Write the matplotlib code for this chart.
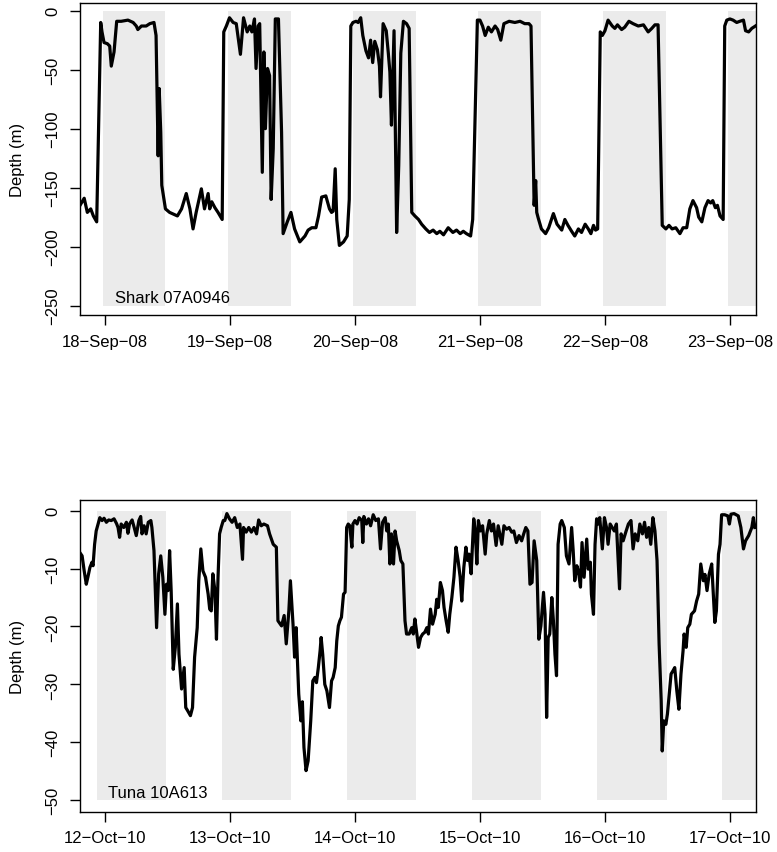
import matplotlib
matplotlib.use("Agg")
import matplotlib.pyplot as plt

plt.rcParams['font.family'] = ['Liberation Sans', 'DejaVu Sans']
plt.rcParams['font.size'] = 12

# Shark 07A0946 : hours since 18-Sep-08 00:00, depth (m)
shark_hours = [-4.8, -4.0, -3.4, -2.75, -2.24, -1.6, -0.83, -0.58, -0.19, 0.45, 0.9, 1.2, 1.73, 2.24, 3.1,
               4.4, 5.4, 6.0, 6.3, 7.0, 7.9, 8.6, 9.4, 9.8, 10.2, 10.4, 10.7, 10.9, 11.6, 12.4, 13.9, 14.7,
               15.6, 16.3, 16.9, 17.5, 18.5, 19.1, 19.8, 20.1, 20.5, 21.1, 21.7, 22.5, 22.8, 23.3, 23.9,
               24.6, 25.2, 26.0, 26.6, 27.3, 27.8, 28.2, 28.7, 29.0, 29.4, 29.7, 30.2, 30.5, 30.8, 31.2,
               31.6, 31.9, 32.3, 32.7, 33.3, 33.9, 34.2, 35.0, 35.7, 36.4, 37.4, 38.4, 39.0, 39.7, 40.5,
               41.0, 41.6, 42.4, 43.1, 43.5, 43.8, 44.2, 44.5, 45.0, 45.8, 46.5, 46.9, 47.2, 47.6, 48.2,
               48.6, 49.1, 49.5, 50.1, 50.6, 51.0, 51.4, 51.8, 52.3, 52.7, 52.9, 53.4, 54.0, 54.4, 54.7,
               55.0, 55.5, 56.0, 56.4, 56.8, 57.3, 57.9, 58.4, 58.9, 59.5, 60.2, 60.8, 61.6, 62.3, 63.0,
               63.7, 64.3, 65.0, 65.9, 66.8, 67.5, 68.2, 68.8, 69.4, 70.2, 70.6, 71.5, 72.0, 72.5, 73.0,
               73.6, 74.2, 74.9, 75.4, 76.0, 76.6, 77.6, 78.7, 79.7, 80.6, 81.4, 81.8, 82.4, 82.7, 82.9,
               83.2, 83.8, 84.6, 85.2, 86.1, 86.8, 87.7, 88.3, 88.9, 89.6, 90.2, 90.9, 91.5, 92.2, 92.8,
               93.3, 93.8, 94.2, 94.6, 95.1, 95.5, 96.0, 96.6, 97.4, 97.9, 98.4, 99.2, 99.8, 100.6, 101.4,
               102.4, 103.4, 104.3, 105.0, 105.6, 106.2, 107.0, 107.7, 108.3, 108.9, 109.6, 110.4, 111.0,
               111.7, 112.3, 112.9, 113.6, 114.0, 114.6, 115.2, 115.8, 116.3, 116.7, 117.2, 117.6, 118.1,
               118.7, 119.0, 119.4, 120.0, 120.6, 121.3, 121.9, 122.6, 123.0, 123.6, 124.2, 124.9]
shark_depth = [-165, -159, -171, -168, -174, -179, -10, -18, -27, -28, -30, -47, -35, -9, -9,
               -8, -10, -13, -16, -13, -13, -11, -10, -21, -123, -66, -103, -148, -168, -171, -174, -168,
               -155, -168, -185, -171, -151, -168, -155, -168, -162, -167, -171, -177, -18, -13, -6,
               -10, -11, -37, -6, -18, -13, -18, -7, -49, -13, -11, -137, -35, -100, -49,
               -55, -160, -117, -7, -7, -103, -189, -179, -171, -185, -196, -191, -186, -184, -184,
               -174, -158, -157, -168, -171, -170, -134, -177, -199, -196, -191, -160, -13, -10, -9,
               -10, -6, -21, -34, -40, -25, -44, -26, -33, -47, -73, -11, -17, -36, -52,
               -97, -17, -188, -131, -36, -9, -11, -15, -171, -174, -177, -181, -185, -188, -186,
               -189, -187, -190, -184, -188, -186, -189, -187, -189, -191, -177, -8, -8, -13, -21,
               -14, -18, -13, -16, -25, -11, -9, -10, -9, -11, -11, -13, -165, -144, -171,
               -176, -185, -189, -184, -172, -181, -186, -177, -182, -187, -191, -185, -188, -181, -185,
               -189, -182, -186, -185, -18, -21, -17, -8, -13, -15, -12, -16, -14, -9, -11,
               -13, -12, -18, -15, -12, -12, -182, -185, -182, -185, -184, -189, -184,
               -184, -168, -161, -167, -175, -179, -167, -161, -163, -161, -167, -165, -174,
               -177, -13, -8, -7, -8, -10, -9, -8, -17, -18, -15, -13]

# Tuna 10A613 : hours since 12-Oct-10 00:00, depth (m)
tuna_hours = [-4.86, -4.4, -4.0, -3.6, -3.3, -2.9, -2.5, -2.3, -2.0, -1.7, -1.34, -1.0, -0.57, -0.19, 0.26,
              0.7, 1.2, 1.73, 2.2, 2.5, 2.8, 3.1, 3.6, 4.1, 4.4, 4.7, 5.2, 5.6, 6.0, 6.5, 6.85, 7.1, 7.5,
              7.9, 8.3, 8.8, 9.0, 9.4, 9.9, 10.3, 10.7, 11.1, 11.5, 11.8, 12.1, 12.4, 12.7, 13.1, 13.5,
              13.9, 14.2, 14.7, 15.2, 15.5, 15.9, 16.4, 16.8, 17.2, 17.7, 18.0, 18.4, 18.8, 19.3, 19.8,
              20.1, 20.4, 20.7, 21.1, 21.4, 21.7, 22.0, 22.3, 22.7, 23.0, 23.4, 23.9, 24.4, 24.9, 25.4,
              25.9, 26.4, 26.6, 27.1, 27.6, 28.1, 28.6, 29.1, 29.5, 30.0, 30.5, 31.2, 31.6, 32.3, 32.9,
              33.2, 33.9, 34.4, 34.8, 35.3, 35.6, 36.1, 36.4, 36.7, 37.2, 37.6, 37.9, 38.2, 38.6, 39.0,
              39.5, 39.9, 40.3, 40.6, 40.96, 41.3, 41.5, 41.8, 42.2, 42.6, 43.1, 43.5, 43.8, 44.2, 44.5,
              44.8, 45.1, 45.4, 45.8, 46.1, 46.4, 46.7, 47.0, 47.4, 47.6, 48.0, 48.4, 48.8, 49.3, 49.5,
              49.7, 50.2, 50.6, 51.0, 51.5, 52.0, 52.5, 52.9, 53.3, 53.8, 54.1, 54.4, 54.7, 55.0, 55.4,
              55.7, 56.0, 56.5, 56.8, 57.2, 57.6, 57.9, 58.4, 58.9, 59.2, 59.5, 59.8, 60.2, 60.6, 61.0,
              61.4, 61.8, 62.1, 62.5, 62.9, 63.4, 63.7, 64.0, 64.4, 64.8, 65.1, 65.5, 65.9, 66.2, 66.6,
              67.0, 67.4, 67.8, 68.2, 68.5, 68.9, 69.3, 69.6, 69.9, 70.3, 70.6, 70.8, 71.1, 71.4, 71.7,
              72.1, 72.5, 73.0, 73.3, 73.8, 74.2, 74.6, 75.1, 75.5, 76.2, 76.6, 77.1, 77.6, 78.1, 78.5,
              79.0, 79.5, 80.0, 80.4, 80.8, 81.2, 81.6, 82.0, 82.4, 82.9, 83.3, 83.7, 84.2, 84.5, 84.8,
              85.1, 85.4, 85.8, 86.1, 86.4, 86.7, 87.0, 87.4, 87.7, 88.2, 88.6, 89.1, 89.6, 89.9, 90.2,
              90.6, 90.9, 91.3, 91.6, 92.0, 92.5, 92.8, 93.2, 93.4, 93.8, 94.1, 94.4, 94.7, 95.0, 95.5,
              95.9, 96.3, 96.6, 97.0, 97.4, 97.8, 98.2, 98.8, 99.1, 99.5, 100.0, 100.5, 101.0, 101.4,
              101.8, 102.3, 102.7, 103.2, 103.6, 104.0, 104.4, 104.8, 105.2, 105.6, 106.0, 106.4, 106.8,
              107.0, 107.3, 107.7, 108.0, 108.4, 108.7, 109.1, 109.4, 109.8, 110.2, 110.6, 111.0, 111.2,
              111.6, 111.9, 112.3, 112.6, 113.2, 113.6, 114.0, 114.4, 114.9, 115.2, 115.6, 116.0, 116.5,
              116.8, 117.1, 117.4, 117.8, 118.1, 118.4, 119.0, 119.6, 119.9, 120.2, 120.8, 121.6, 122.1,
              122.6, 123.0, 123.6, 124.2, 124.5, 124.8]
tuna_depth = [-7.2, -7.8, -10.4, -12.7, -11.5, -9.8, -8.9, -9.5, -5.8, -3.5, -2.3, -1.2, -1.7, -1.3, -2.0,
              -1.6, -1.7, -1.4, -2.2, -2.9, -4.6, -2.3, -2.9, -2.0, -3.9, -2.3, -1.6, -2.9, -4.3, -1.7, -1.0, -4.0, -2.6,
              -4.0, -2.0, -1.7, -2.9, -6.9, -20.2, -10.9, -7.8, -11.5, -17.9, -12.7, -13.8, -6.9, -13.8, -27.4, -23.6,
              -16.1, -24.8, -30.8, -27.1, -34.0, -34.6, -35.4, -34.0, -25.3, -20.2, -12.1, -6.6, -10.4, -11.5, -14.4,
              -17.0, -17.3, -10.9, -13.8, -22.2, -11.5, -4.0, -2.9, -1.7, -1.7, -0.5, -1.4, -2.0, -1.2, -2.9,
              -2.3, -8.4, -2.9, -3.7, -2.9, -3.7, -2.9, -4.0, -1.6, -2.6, -2.3, -2.6, -4.0, -5.8, -6.3,
              -19.0, -19.9, -18.1, -23.0, -17.3, -12.1, -19.6, -25.3, -20.2, -31.7, -36.3, -33.0, -40.9, -44.9, -43.2,
              -36.3, -29.4, -28.8, -29.7, -27.1, -24.2, -21.9, -24.8, -30.0, -31.1, -34.0, -29.4, -28.8, -27.1, -22.5,
              -19.9, -19.0, -18.4, -14.4, -14.1, -2.9, -2.3, -2.6, -6.3, -2.3, -1.7, -2.3, -1.2, -1.7, -5.5,
              -1.0, -2.3, -1.4, -2.6, -0.7, -1.7, -1.4, -6.6, -2.0, -1.2, -3.5, -2.3, -9.2, -4.0, -9.2,
              -3.5, -5.2, -6.9, -8.6, -9.2, -19.0, -21.3, -21.3, -20.2, -21.3, -18.7, -20.7, -23.6, -21.9, -21.3,
              -21.0, -20.2, -21.3, -17.0, -19.6, -17.9, -15.3, -16.7, -12.4, -13.8, -16.7, -19.0, -21.0, -17.9, -15.0,
              -11.5, -6.3, -8.6, -11.5, -15.6, -9.8, -6.3, -8.6, -7.5, -10.9, -5.2, -1.4, -3.5, -9.2, -1.7,
              -3.5, -2.6, -7.5, -4.0, -1.7, -3.5, -2.3, -6.0, -2.6, -5.8, -2.6, -3.2, -2.9, -3.7, -3.5,
              -5.5, -4.3, -5.2, -4.0, -2.9, -3.5, -12.7, -12.4, -5.2, -8.6, -22.2, -19.9, -14.1, -17.9, -35.7,
              -21.9, -21.3, -15.0, -19.0, -24.8, -28.5, -5.8, -2.3, -1.7, -2.9, -7.8, -9.2, -2.9, -6.9, -12.1,
              -9.5, -10.4, -13.2, -5.5, -11.5, -4.9, -10.1, -8.9, -14.4, -17.9, -5.8, -1.4, -2.3, -1.2, -6.6,
              -1.2, -2.9, -5.8, -2.3, -2.9, -3.5, -2.3, -13.5, -4.0, -5.2, -3.7, -2.3, -1.7, -6.6,
              -4.0, -5.2, -2.3, -4.0, -2.0, -4.6, -2.9, -5.8, -1.2, -3.5, -8.6, -23.0, -32.8,
              -41.5, -36.3, -36.9, -35.1, -31.1, -28.2, -27.6, -27.1, -31.1, -34.3, -28.2, -24.2, -21.3,
              -23.6, -20.2, -19.6, -17.9, -17.3, -15.6, -14.4, -9.2, -12.1, -11.0, -13.8, -11.0, -9.2,
              -14.4, -19.3, -17.3, -7.5, -5.8, -0.7, -0.7, -0.9, -2.3, -0.6, -0.5, -0.9, -2.9,
              -6.6, -5.2, -4.3, -2.9, -1.2, -2.9]

# daylight periods (hours since first midnight)
shark_day_start = [-0.4, 23.65, 47.6, 71.65, 95.65, 119.7]
shark_day_end = [11.55, 35.65, 59.65, 83.7, 107.7, 131.7]
tuna_day_start = [-1.6, 22.5, 46.5, 70.5, 94.5, 118.5]
tuna_day_end = [11.65, 35.65, 59.65, 83.7, 107.9, 131.9]

shark_dates = ["18\u2212Sep\u221208", "19\u2212Sep\u221208", "20\u2212Sep\u221208",
               "21\u2212Sep\u221208", "22\u2212Sep\u221208", "23\u2212Sep\u221208"]
tuna_dates = ["12\u2212Oct\u221210", "13\u2212Oct\u221210", "14\u2212Oct\u221210",
              "15\u2212Oct\u221210", "16\u2212Oct\u221210", "17\u2212Oct\u221210"]
shark_yticks = [0, -50, -100, -150, -200, -250]
tuna_yticks = [0, -10, -20, -30, -40, -50]

fig = plt.figure(figsize=(7.77, 8.53), dpi=100)
ax1 = fig.add_axes([0.103, 0.6295, 0.8706, 0.3658])
ax2 = fig.add_axes([0.103, 0.0472, 0.8706, 0.3658])


def panel(ax, hours, depth, starts, ends, floor, dates, yticks, ylim, label, lx, ly):
    for s, e in zip(starts, ends):
        ax.fill_between([s, e], floor, 0, color='#EBEBEB', lw=0)
    ax.plot(hours, depth, color='black', lw=2.3, solid_joinstyle='round')
    ax.set_xlim(-4.8, 125.1)
    ax.set_ylim(*ylim)
    ax.set_xticks([24 * i for i in range(len(dates))])
    ax.set_xticklabels(dates)
    ax.set_yticks(yticks)
    ax.set_yticklabels([str(v).replace('-', '\u2212') for v in yticks], rotation=90, va='center')
    ax.tick_params(direction='out', length=7.5, width=1, pad=6, labelsize=12)
    ax.tick_params(axis='y', pad=7)
    for sp in ax.spines.values():
        sp.set_linewidth(1)
    ax.set_ylabel('Depth (m)', fontsize=12, labelpad=14)
    ax.text(lx, ly, label, fontsize=12, va='center')


panel(ax1, shark_hours, shark_depth, shark_day_start, shark_day_end, -250,
      shark_dates, shark_yticks, (-258, 6.5), 'Shark 07A0946', 1.9, -243)
panel(ax2, tuna_hours, tuna_depth, tuna_day_start, tuna_day_end, -50,
      tuna_dates, tuna_yticks, (-52, 1.9), 'Tuna 10A613', 0.6, -48.6)

fig.savefig('out.png', dpi=100)
